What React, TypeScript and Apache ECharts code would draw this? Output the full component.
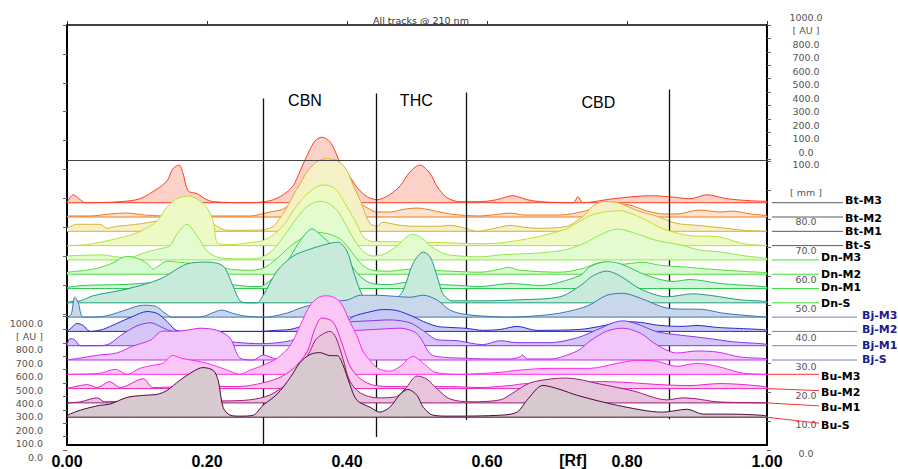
import React, { useEffect, useRef } from 'react';
import * as echarts from 'echarts';

// ---------- data (Rf, intensity in AU above each track's own baseline) ----------
const TRACK_NAMES = ['Bt-M3', 'Bt-M2', 'Bt-M1', 'Bt-S', 'Dn-M3', 'Dn-M2', 'Dn-M1', 'Dn-S', 'Bj-M3', 'Bj-M2', 'Bj-M1', 'Bj-S', 'Bu-M3', 'Bu-M2', 'Bu-M1', 'Bu-S'];

const BT_M3 = [[0,0],[0.009,60],[0.019,23],[0.026,0],[0.076,8],[0.104,30],[0.129,105],[0.143,165],[0.151,255],[0.16,285],[0.166,218],[0.173,90],[0.186,68],[0.197,30],[0.209,8],[0.261,0],[0.29,15],[0.309,60],[0.323,128],[0.333,240],[0.344,368],[0.354,465],[0.364,495],[0.376,458],[0.386,353],[0.394,255],[0.404,195],[0.416,105],[0.429,45],[0.443,23],[0.461,60],[0.476,128],[0.49,233],[0.504,285],[0.519,218],[0.529,120],[0.543,38],[0.561,8],[0.59,8],[0.614,23],[0.637,53],[0.657,23],[0.676,8],[0.723,0],[0.73,45],[0.737,0],[0.78,30],[0.833,53],[0.861,45],[0.89,30],[0.914,60],[0.943,30],[0.976,15],[1,8]];
const BT_M2 = [[0,8],[0.033,8],[0.061,23],[0.086,30],[0.111,15],[0.14,8],[0.19,8],[0.261,8],[0.29,38],[0.309,60],[0.323,120],[0.34,210],[0.361,255],[0.383,225],[0.404,165],[0.419,105],[0.429,68],[0.443,38],[0.461,38],[0.483,60],[0.5,68],[0.519,53],[0.54,30],[0.561,15],[0.59,8],[0.619,23],[0.633,30],[0.654,15],[0.704,15],[0.74,45],[0.776,105],[0.804,90],[0.829,45],[0.854,23],[0.871,23],[0.904,53],[0.933,38],[0.951,45],[0.976,23],[1,8]];
const BT_M1 = [[0,23],[0.014,53],[0.047,53],[0.057,23],[0.071,38],[0.086,45],[0.109,60],[0.133,83],[0.161,105],[0.19,90],[0.207,60],[0.219,23],[0.229,8],[0.261,8],[0.29,23],[0.309,135],[0.323,270],[0.333,360],[0.344,458],[0.357,525],[0.371,548],[0.387,533],[0.4,458],[0.409,345],[0.419,233],[0.426,135],[0.433,60],[0.443,38],[0.451,68],[0.476,45],[0.5,38],[0.533,38],[0.547,45],[0.569,23],[0.586,0],[0.611,23],[0.633,45],[0.654,30],[0.671,23],[0.714,38],[0.737,113],[0.751,188],[0.766,225],[0.786,218],[0.814,158],[0.843,113],[0.871,60],[0.9,45],[0.929,30],[0.966,8],[1,0]];
const BT_S = [[0,0],[0.029,8],[0.071,53],[0.104,105],[0.129,188],[0.143,293],[0.157,353],[0.173,375],[0.19,338],[0.201,278],[0.209,180],[0.216,15],[0.237,8],[0.261,23],[0.28,38],[0.297,90],[0.311,165],[0.326,285],[0.34,375],[0.354,435],[0.364,458],[0.376,450],[0.386,413],[0.4,293],[0.414,165],[0.423,68],[0.437,30],[0.469,30],[0.49,23],[0.533,23],[0.576,15],[0.604,15],[0.633,30],[0.666,60],[0.69,90],[0.714,128],[0.747,225],[0.769,255],[0.79,263],[0.823,203],[0.851,128],[0.89,75],[0.929,68],[0.966,15],[1,0]];
const DN_M3 = [[0,30],[0.047,38],[0.086,15],[0.114,60],[0.137,90],[0.147,105],[0.157,195],[0.171,270],[0.186,180],[0.2,68],[0.214,23],[0.237,8],[0.261,8],[0.28,23],[0.297,90],[0.311,188],[0.326,300],[0.34,390],[0.351,428],[0.361,443],[0.373,428],[0.386,375],[0.397,278],[0.409,165],[0.421,75],[0.436,30],[0.454,45],[0.473,113],[0.483,165],[0.494,195],[0.507,165],[0.521,98],[0.54,45],[0.561,30],[0.59,23],[0.619,38],[0.647,45],[0.676,53],[0.711,75],[0.74,128],[0.761,188],[0.786,233],[0.811,203],[0.84,150],[0.876,113],[0.904,75],[0.933,60],[0.969,30],[1,8]];
const DN_M2 = [[0,15],[0.037,38],[0.061,75],[0.086,135],[0.104,113],[0.116,75],[0.123,38],[0.13,60],[0.143,98],[0.161,90],[0.19,75],[0.233,38],[0.261,30],[0.28,45],[0.297,105],[0.319,210],[0.34,285],[0.359,315],[0.376,300],[0.393,255],[0.407,165],[0.421,75],[0.436,30],[0.461,23],[0.49,38],[0.519,30],[0.547,23],[0.59,15],[0.619,38],[0.629,53],[0.647,30],[0.704,15],[0.733,38],[0.766,90],[0.79,75],[0.823,90],[0.847,68],[0.886,53],[0.919,38],[0.961,23],[1,8]];
const DN_M1 = [[0,8],[0.023,23],[0.08,30],[0.104,38],[0.133,45],[0.19,45],[0.247,23],[0.261,15],[0.276,15],[0.29,60],[0.304,128],[0.319,240],[0.333,360],[0.35,450],[0.364,398],[0.376,338],[0.39,263],[0.404,188],[0.419,90],[0.436,38],[0.461,30],[0.483,45],[0.504,38],[0.533,30],[0.561,23],[0.59,15],[0.633,38],[0.676,23],[0.733,98],[0.747,165],[0.771,203],[0.79,188],[0.829,98],[0.866,53],[0.89,68],[0.933,38],[1,8]];
const DN_S = [[0,0],[0.004,8],[0.019,15],[0.037,53],[0.086,105],[0.133,180],[0.171,293],[0.2,308],[0.223,278],[0.237,128],[0.247,15],[0.257,0],[0.271,0],[0.28,53],[0.3,240],[0.323,353],[0.347,405],[0.371,443],[0.387,458],[0.4,390],[0.409,240],[0.419,90],[0.426,30],[0.447,15],[0.469,30],[0.48,90],[0.494,293],[0.509,383],[0.519,345],[0.529,195],[0.537,68],[0.55,15],[0.59,15],[0.647,23],[0.704,45],[0.733,128],[0.751,203],[0.771,240],[0.79,203],[0.819,105],[0.857,45],[0.894,68],[0.923,53],[0.961,23],[1,8]];
const BJ_M3 = [[0,0],[0.006,20],[0.011,150],[0.016,110],[0.023,0],[0.04,0],[0.061,15],[0.083,53],[0.109,90],[0.126,83],[0.14,30],[0.15,0],[0.19,0],[0.207,30],[0.221,53],[0.236,30],[0.254,8],[0.283,0],[0.314,30],[0.333,68],[0.354,98],[0.376,120],[0.4,128],[0.419,165],[0.443,165],[0.466,158],[0.49,150],[0.509,165],[0.529,128],[0.547,53],[0.566,23],[0.594,8],[0.629,0],[0.666,8],[0.704,30],[0.743,83],[0.771,165],[0.794,180],[0.819,143],[0.857,68],[0.886,60],[0.904,60],[0.937,30],[0.98,8],[1,0]];
const BJ_M2 = [[0,0],[0.007,30],[0.014,60],[0.023,45],[0.033,0],[0.051,15],[0.071,60],[0.094,113],[0.114,150],[0.129,135],[0.143,75],[0.154,15],[0.164,0],[0.276,0],[0.297,8],[0.319,15],[0.34,45],[0.361,60],[0.383,60],[0.4,75],[0.409,113],[0.429,143],[0.451,165],[0.471,158],[0.494,113],[0.509,75],[0.529,38],[0.547,30],[0.571,23],[0.594,8],[0.619,15],[0.643,38],[0.671,8],[0.733,15],[0.761,38],[0.78,60],[0.794,75],[0.819,68],[0.847,45],[0.88,38],[0.9,45],[0.929,30],[1,8]];
const BJ_M1 = [[0,0],[0.004,53],[0.011,45],[0.019,0],[0.047,0],[0.061,15],[0.076,75],[0.1,150],[0.119,173],[0.137,135],[0.147,113],[0.171,83],[0.19,60],[0.219,38],[0.247,23],[0.276,15],[0.319,38],[0.347,105],[0.376,165],[0.404,180],[0.433,188],[0.461,195],[0.49,173],[0.509,113],[0.529,45],[0.557,38],[0.594,8],[0.619,38],[0.643,23],[0.69,23],[0.729,60],[0.757,120],[0.78,173],[0.794,188],[0.814,165],[0.843,105],[0.871,83],[0.909,60],[0.951,30],[1,8]];
const BJ_S = [[0,0],[0.019,15],[0.047,38],[0.071,53],[0.094,105],[0.119,150],[0.137,218],[0.157,218],[0.171,225],[0.19,240],[0.214,225],[0.233,165],[0.247,15],[0.266,0],[0.28,38],[0.294,15],[0.309,0],[0.319,23],[0.333,60],[0.354,120],[0.376,180],[0.397,218],[0.419,225],[0.447,233],[0.476,240],[0.497,210],[0.507,150],[0.519,45],[0.533,23],[0.561,15],[0.604,8],[0.633,8],[0.647,23],[0.651,38],[0.657,8],[0.69,8],[0.729,68],[0.747,143],[0.771,218],[0.794,240],[0.819,203],[0.843,113],[0.871,53],[0.9,68],[0.929,60],[0.961,23],[1,8]];
const BU_M3 = [[0,0],[0.047,8],[0.069,38],[0.086,0],[0.104,45],[0.123,68],[0.137,83],[0.151,143],[0.164,120],[0.18,105],[0.2,83],[0.226,38],[0.247,0],[0.261,30],[0.28,68],[0.3,120],[0.319,218],[0.333,368],[0.347,518],[0.361,585],[0.373,593],[0.39,548],[0.404,398],[0.414,293],[0.423,173],[0.433,105],[0.444,45],[0.461,23],[0.476,60],[0.494,135],[0.511,75],[0.526,15],[0.561,0],[0.619,15],[0.643,30],[0.69,45],[0.747,45],[0.786,83],[0.814,105],[0.843,98],[0.871,60],[0.9,83],[0.929,60],[0.966,8],[1,0]];
const BU_M2 = [[0,0],[0.029,30],[0.043,8],[0.061,53],[0.076,8],[0.109,75],[0.123,8],[0.161,15],[0.19,23],[0.233,15],[0.261,23],[0.3,75],[0.323,150],[0.343,278],[0.354,450],[0.364,533],[0.38,503],[0.394,323],[0.404,173],[0.419,75],[0.44,23],[0.476,15],[0.547,15],[0.59,8],[0.633,23],[0.657,38],[0.683,23],[0.719,38],[0.761,53],[0.804,45],[0.847,30],[0.89,23],[0.933,38],[1,8]];
const BU_M1 = [[0,0],[0.019,8],[0.043,38],[0.054,8],[0.09,15],[0.133,23],[0.19,23],[0.219,15],[0.261,23],[0.29,60],[0.319,165],[0.333,263],[0.347,390],[0.357,488],[0.376,540],[0.384,495],[0.394,338],[0.404,165],[0.419,75],[0.443,38],[0.469,45],[0.483,105],[0.5,203],[0.514,180],[0.529,105],[0.547,30],[0.576,8],[0.619,23],[0.637,75],[0.661,150],[0.69,180],[0.714,188],[0.761,143],[0.809,90],[0.857,23],[0.88,38],[0.9,30],[0.929,8],[1,0]];
const BU_S = [[0,0],[0.001,15],[0.019,53],[0.047,90],[0.061,98],[0.086,150],[0.109,165],[0.129,173],[0.143,203],[0.161,278],[0.18,345],[0.194,375],[0.209,353],[0.216,278],[0.223,75],[0.233,15],[0.247,8],[0.266,15],[0.28,90],[0.3,173],[0.319,300],[0.333,413],[0.347,473],[0.361,488],[0.376,465],[0.386,465],[0.394,398],[0.404,248],[0.414,128],[0.433,75],[0.447,38],[0.461,75],[0.476,173],[0.487,210],[0.5,165],[0.509,75],[0.523,15],[0.547,8],[0.619,15],[0.643,38],[0.657,128],[0.68,240],[0.704,210],[0.729,165],[0.786,90],[0.851,38],[0.886,60],[0.909,23],[0.951,23],[1,8]];

const TRACKS = [BT_M3, BT_M2, BT_M1, BT_S, DN_M3, DN_M2, DN_M1, DN_S, BJ_M3, BJ_M2, BJ_M1, BJ_S, BU_M3, BU_M2, BU_M1, BU_S];

// integration boundaries (Rf) and their extent on the display scale
const CUT_RF = [0.28, 0.442, 0.571, 0.861];
const CUT_TOP = [2617, 2655, 2662, 2685];
const CUT_BOTTOM = [0, 60, 188, 195];
const ZERO_LINE = 2152;
const PEAK_NAMES = ['CBN', 'THC', 'CBD'];
const PEAK_RF = [0.34, 0.499, 0.759];
const PEAK_Y = [2602, 2602, 2588];

// ---------- layout / style ----------
const YMAX = 3172.5;
const BASE0 = 210;
const STEP = 108;
const LINE_COLORS = ['#ff3c1e', '#f07820', '#d6b430', '#bce030', '#92e848', '#52dc38', '#28c850', '#1f9e7e', '#3a74b4', '#2626d4', '#8434ee', '#c42af0', '#ff2ae6', '#e822c0', '#a0187a', '#500838'];
const FILL_COLORS = ['#fcd2c8', '#fde2cc', '#f5f0c6', '#eefac6', '#e2fcd0', '#d8fad2', '#d2f4da', '#c8eada', '#c8d8ea', '#c8c8f2', '#d6c6f8', '#f2c6fa', '#fcc6f6', '#f6c8ec', '#e8c4dc', '#d8c8d0'];
const GROUP_LINE_X1 = [772, 772, 772, 767];
const GROUP_LINE_X2 = [843, 819, 857, 819];
const GROUP_TEXT_X = [845, 821, 862, 821];
const GROUP_LINE_COLOR = ['#5a5a5a', '#3ee03e', '#7a7ac8', '#ff3030'];
const GROUP_TEXT_COLOR = ['#000', '#000', '#1c1c8c', '#000'];
const LABEL_DY = [-2, 1, 0, 0, -2, 0, -1, 1, -2, -2, 0, -1, 2, 4, 5, 8];

const trackBase = (i: number) => BASE0 + (TRACKS.length - 1 - i) * STEP;
const SCALE_FONT = 'DejaVu Sans';
const auFmt = (v: number) => (v === 900 ? '[ AU ]' : v.toFixed(1));
const mmFmt = (v: number) => (v === 90 ? '[ mm ]' : v.toFixed(1));

export default function App() {
  const ref = useRef<HTMLDivElement>(null);
  useEffect(() => {
    if (!ref.current) return;
    const chart = echarts.init(ref.current, null, { renderer: 'svg' });

    const series: any[] = TRACKS.map((pts, i) => {
      const base = trackBase(i);
      const data = pts.map(([rf, au]) => [rf, base + au]);
      data.push([1, base], [0, base]);
      return {
        type: 'line', name: TRACK_NAMES[i], data, xAxisIndex: 0, yAxisIndex: 0,
        z: 2 + i, smooth: 0.3, symbol: 'none', showSymbol: false, silent: true,
        lineStyle: { color: LINE_COLORS[i], width: 1 },
        areaStyle: { color: FILL_COLORS[i], opacity: 1, origin: base },
      };
    });

    series.push({
      type: 'line', data: [[0, 0]], symbol: 'none', xAxisIndex: 0, yAxisIndex: 0, z: 60, silent: true,
      lineStyle: { opacity: 0 },
      markLine: {
        silent: true, symbol: ['none', 'none'], animation: false,
        label: { show: false },
        lineStyle: { color: '#111', width: 1.3, type: 'solid' },
        data: [
          ...CUT_RF.map((rf, k) => [{ coord: [rf, CUT_TOP[k]] }, { coord: [rf, CUT_BOTTOM[k]] }]),
          [{ coord: [0, ZERO_LINE], lineStyle: { color: '#444', width: 1 } }, { coord: [1, ZERO_LINE] }],
        ],
      },
      markPoint: {
        silent: true, symbol: 'circle', symbolSize: 0, animation: false,
        label: { show: true, position: 'inside', formatter: '{b}', color: '#000', fontSize: 16, fontFamily: 'Liberation Sans' },
        data: PEAK_NAMES.map((n, k) => ({ name: n, coord: [PEAK_RF[k], PEAK_Y[k]] })),
      },
    });

    const scaleLabel = { color: '#555', fontSize: 9.5, fontFamily: SCALE_FONT };
    const noLine = { show: false, onZero: false };
    const tickOnly = (grid: number, max: number, interval: number, pos: string) => ({
      type: 'value', gridIndex: grid, min: 0, max, interval, position: pos,
      axisLine: noLine, splitLine: { show: false }, axisLabel: { show: false },
      axisTick: { show: true, length: 4, lineStyle: { color: '#666' } },
    });
    const labelOnly = (grid: number, max: number, interval: number, pos: string, fmt: any, align: string, margin: number) => ({
      type: 'value', gridIndex: grid, min: 0, max, interval, position: pos,
      axisLine: noLine, splitLine: { show: false }, axisTick: { show: false },
      axisLabel: { ...scaleLabel, formatter: fmt, align, margin },
    });
    const hiddenX = (grid: number) => ({ type: 'value', gridIndex: grid, min: 0, max: 1, show: false, axisLine: { onZero: false } });

    const option: any = {
      animation: false,
      title: { text: 'All tracks @ 210 nm', left: 368, top: 10, textStyle: { fontSize: 9.5, fontWeight: 'normal', fontFamily: SCALE_FONT, color: '#333' } },
      grid: [
        { left: 67, top: 25, width: 700, height: 423 },
        { left: 67, top: 316, width: 10, height: 134 },   // left AU ticks
        { left: 67, top: 25, width: 10, height: 289 },    // left mm ticks
        { left: 757, top: 25, width: 10, height: 134 },   // right AU ticks
        { left: 757, top: 161, width: 10, height: 289 },  // right mm ticks
        { left: 67, top: 323, width: 10, height: 134 },   // left AU labels
        { left: 757, top: 17, width: 10, height: 135 },   // right AU labels
        { left: 757, top: 164, width: 10, height: 289 },  // right mm labels
      ],
      xAxis: [
        { type: 'value', gridIndex: 0, min: 0, max: 1, interval: 0.2, position: 'bottom',
          axisLine: { onZero: false, lineStyle: { color: '#000', width: 2 } }, axisTick: { show: false }, splitLine: { show: false },
          axisLabel: { formatter: (v: number) => v.toFixed(2), color: '#000', fontSize: 16, fontWeight: 'bold', fontFamily: 'Liberation Sans', margin: 8 } },
        { type: 'value', gridIndex: 0, min: 0, max: 1, interval: 0.2, position: 'top',
          axisLine: { onZero: false, lineStyle: { color: '#000', width: 1.5 } }, axisTick: { show: true, length: 4, lineStyle: { color: '#333' } },
          axisLabel: { show: false }, splitLine: { show: false } },
        hiddenX(1), hiddenX(2), hiddenX(3), hiddenX(4), hiddenX(5), hiddenX(6), hiddenX(7),
      ],
      yAxis: [
        { type: 'value', gridIndex: 0, min: 0, max: YMAX, position: 'left',
          axisLine: { show: true, onZero: false, lineStyle: { color: '#000', width: 2 } }, axisTick: { show: false }, axisLabel: { show: false }, splitLine: { show: false } },
        { type: 'value', gridIndex: 0, min: 0, max: YMAX, position: 'right',
          axisLine: { show: true, onZero: false, lineStyle: { color: '#000', width: 2 } }, axisTick: { show: false }, axisLabel: { show: false }, splitLine: { show: false } },
        tickOnly(1, 1000, 100, 'left'),
        tickOnly(2, 100, 10, 'left'),
        tickOnly(3, 1000, 100, 'right'),
        tickOnly(4, 100, 10, 'right'),
        labelOnly(5, 1000, 100, 'left', auFmt, 'right', 24),
        labelOnly(6, 1000, 100, 'right', auFmt, 'center', 39),
        labelOnly(7, 100, 10, 'right', mmFmt, 'center', 39),
      ],
      series,
    };
    chart.setOption(option);

    const graphic: any[] = [];
    TRACK_NAMES.forEach((name, i) => {
      const g = Math.floor(i / 4);
      const p = chart.convertToPixel({ gridIndex: 0 } as any, [1, trackBase(i)]) as number[];
      const y = p[1];
      const ty = y + LABEL_DY[i];
      const y2 = g === 3 ? ty - 2 : y;
      graphic.push({ type: 'line', silent: true, z: 100, shape: { x1: GROUP_LINE_X1[g], y1: y, x2: GROUP_LINE_X2[g], y2 }, style: { stroke: GROUP_LINE_COLOR[g], lineWidth: 1 } });
      graphic.push({ type: 'text', silent: true, z: 101, x: GROUP_TEXT_X[g], y: ty,
        style: { text: name, fill: GROUP_TEXT_COLOR[g], font: `bold 11px "${SCALE_FONT}"`, align: 'left', verticalAlign: 'middle', textAlign: 'left', textVerticalAlign: 'middle' } });
    });
    graphic.push({ type: 'text', silent: true, z: 101, x: 573, y: 460,
      style: { text: '[Rf]', fill: '#000', font: 'bold 16px "Liberation Sans"', align: 'center', verticalAlign: 'middle', textAlign: 'center', textVerticalAlign: 'middle' } });
    chart.setOption({ graphic });

    return () => chart.dispose();
  }, []);
  return <div ref={ref} style={{ position: 'absolute', left: 0, top: 0, width: 898, height: 469, background: '#fff' }} />;
}
